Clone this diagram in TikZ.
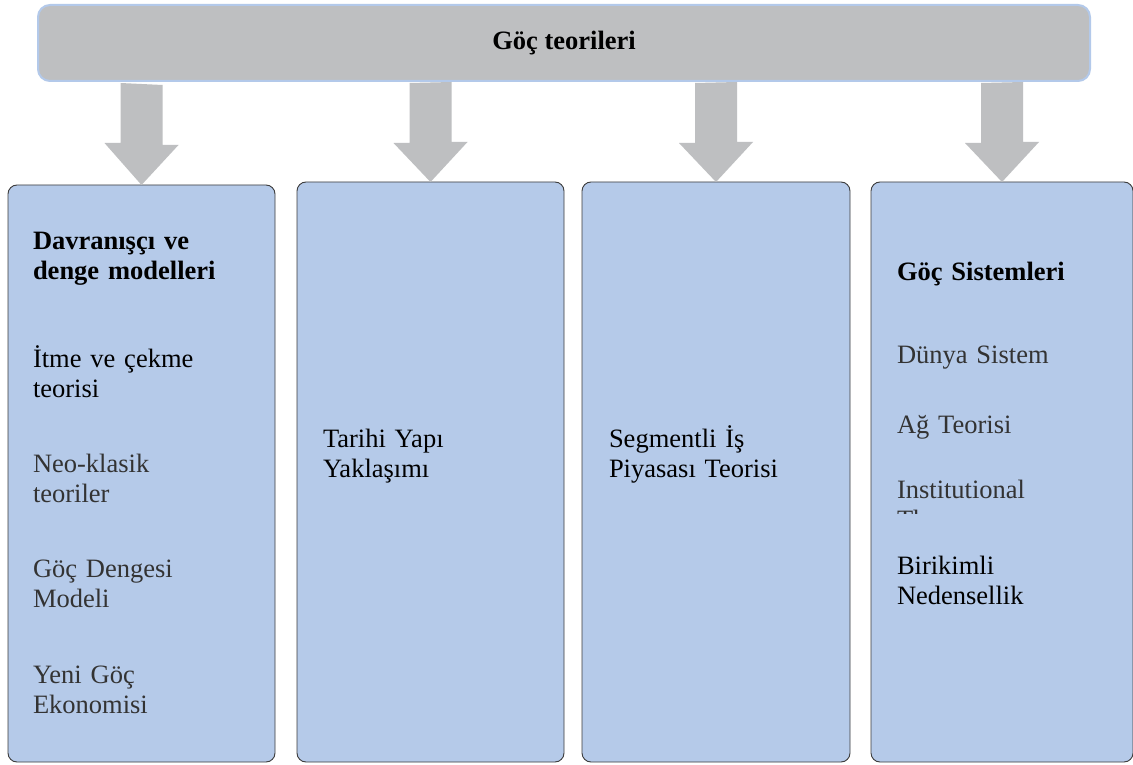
\documentclass[tikz,border=0pt]{standalone}
\usepackage{fontspec}
\setmainfont{Liberation Serif}
\usetikzlibrary{calc}
\definecolor{barfill}{HTML}{BEBFC1}
\definecolor{barline}{HTML}{B3C9EA}
\definecolor{boxfill}{HTML}{B5CAE9}
\definecolor{boxline}{HTML}{3C3C3C}
\definecolor{softtext}{HTML}{333333}
\begin{document}
\begin{tikzpicture}[x=1pt,y=-1pt,
  every node/.style={inner sep=0pt, outer sep=0pt},
  topbar/.style={draw=barline, line width=2pt, fill=barfill, rounded corners=12pt,
    minimum width=1052pt, minimum height=76pt,
    font=\bfseries\fontsize{26.5}{30.7}\selectfont},
  colbox/.style={draw=boxline, line width=0.9pt, fill=boxfill, rounded corners=9pt,
    anchor=north west, minimum width=267pt},
  downarrow/.style={fill=barfill},
  item/.style={anchor=base west, align=left, text width=232pt,
    font=\fontsize{26.5}{30.7}\selectfont},
  head/.style={item, font=\bfseries\fontsize{26.5}{30.7}\selectfont},
  soft/.style={text=softtext}]
\useasboundingbox (0,0) rectangle (1133,765);
\fill[white] (0,0) rectangle (1133,765);

% heading bar
\node[topbar] (bar) at (564,43) {Göç teorileri};

% the four columns
\node[colbox, minimum height=577pt] (c1) at (8,185) {};
\node[colbox, minimum height=580pt] (c2) at (297,182) {};
\node[colbox, minimum height=580pt, minimum width=268pt] (c3) at (582,182) {};
\node[colbox, minimum height=580pt, minimum width=262pt] (c4) at (871,182) {};

% block arrows from the bar down to each column
\foreach \c in {c1,c2,c3,c4}{
  \fill[downarrow] ($(\c.north |- bar.south)+(-21,2)$) -- ++(0,60) -- ++(-16,0)
    -- (\c.north) -- ++(37,-40) -- ++(-16,0) -- ++(0,-60) -- cycle;
}

% column 1
\node[head] (h1) at (33,249) {Davranışçı ve\\denge modelleri};
\node[item] (t11) at (33,367) {İtme ve çekme\\teorisi};
\node[item, soft] (t12) at (33,472) {Neo-klasik\\teoriler};
\node[item, soft] (t13) at (33,577) {Göç Dengesi\\Modeli};
\node[item, soft] (t14) at (33,683) {Yeni Göç\\Ekonomisi};

% column 2
\node[item] (t21) at (323,447) {Tarihi Yapı\\Yaklaşımı};

% column 3
\node[item] (t31) at (609,447) {Segmentli İş\\Piyasası Teorisi};

% column 4
\node[head] (h4) at (897,280) {Göç Sistemleri};
\node[item, soft] (t41) at (897,363) {Dünya Sistem};
\node[item, soft] (t42) at (897,433) {Ağ Teorisi};
\begin{scope}
  % the text frame cuts the second line off just below its cap tops
  \clip (880,470) rectangle (1125,513.5);
  \node[item, soft] (t43) at (897,498) {Institutional\\Theory};
\end{scope}
\node[item] (t44) at (897,574) {Birikimli\\Nedensellik};
\end{tikzpicture}
\end{document}
